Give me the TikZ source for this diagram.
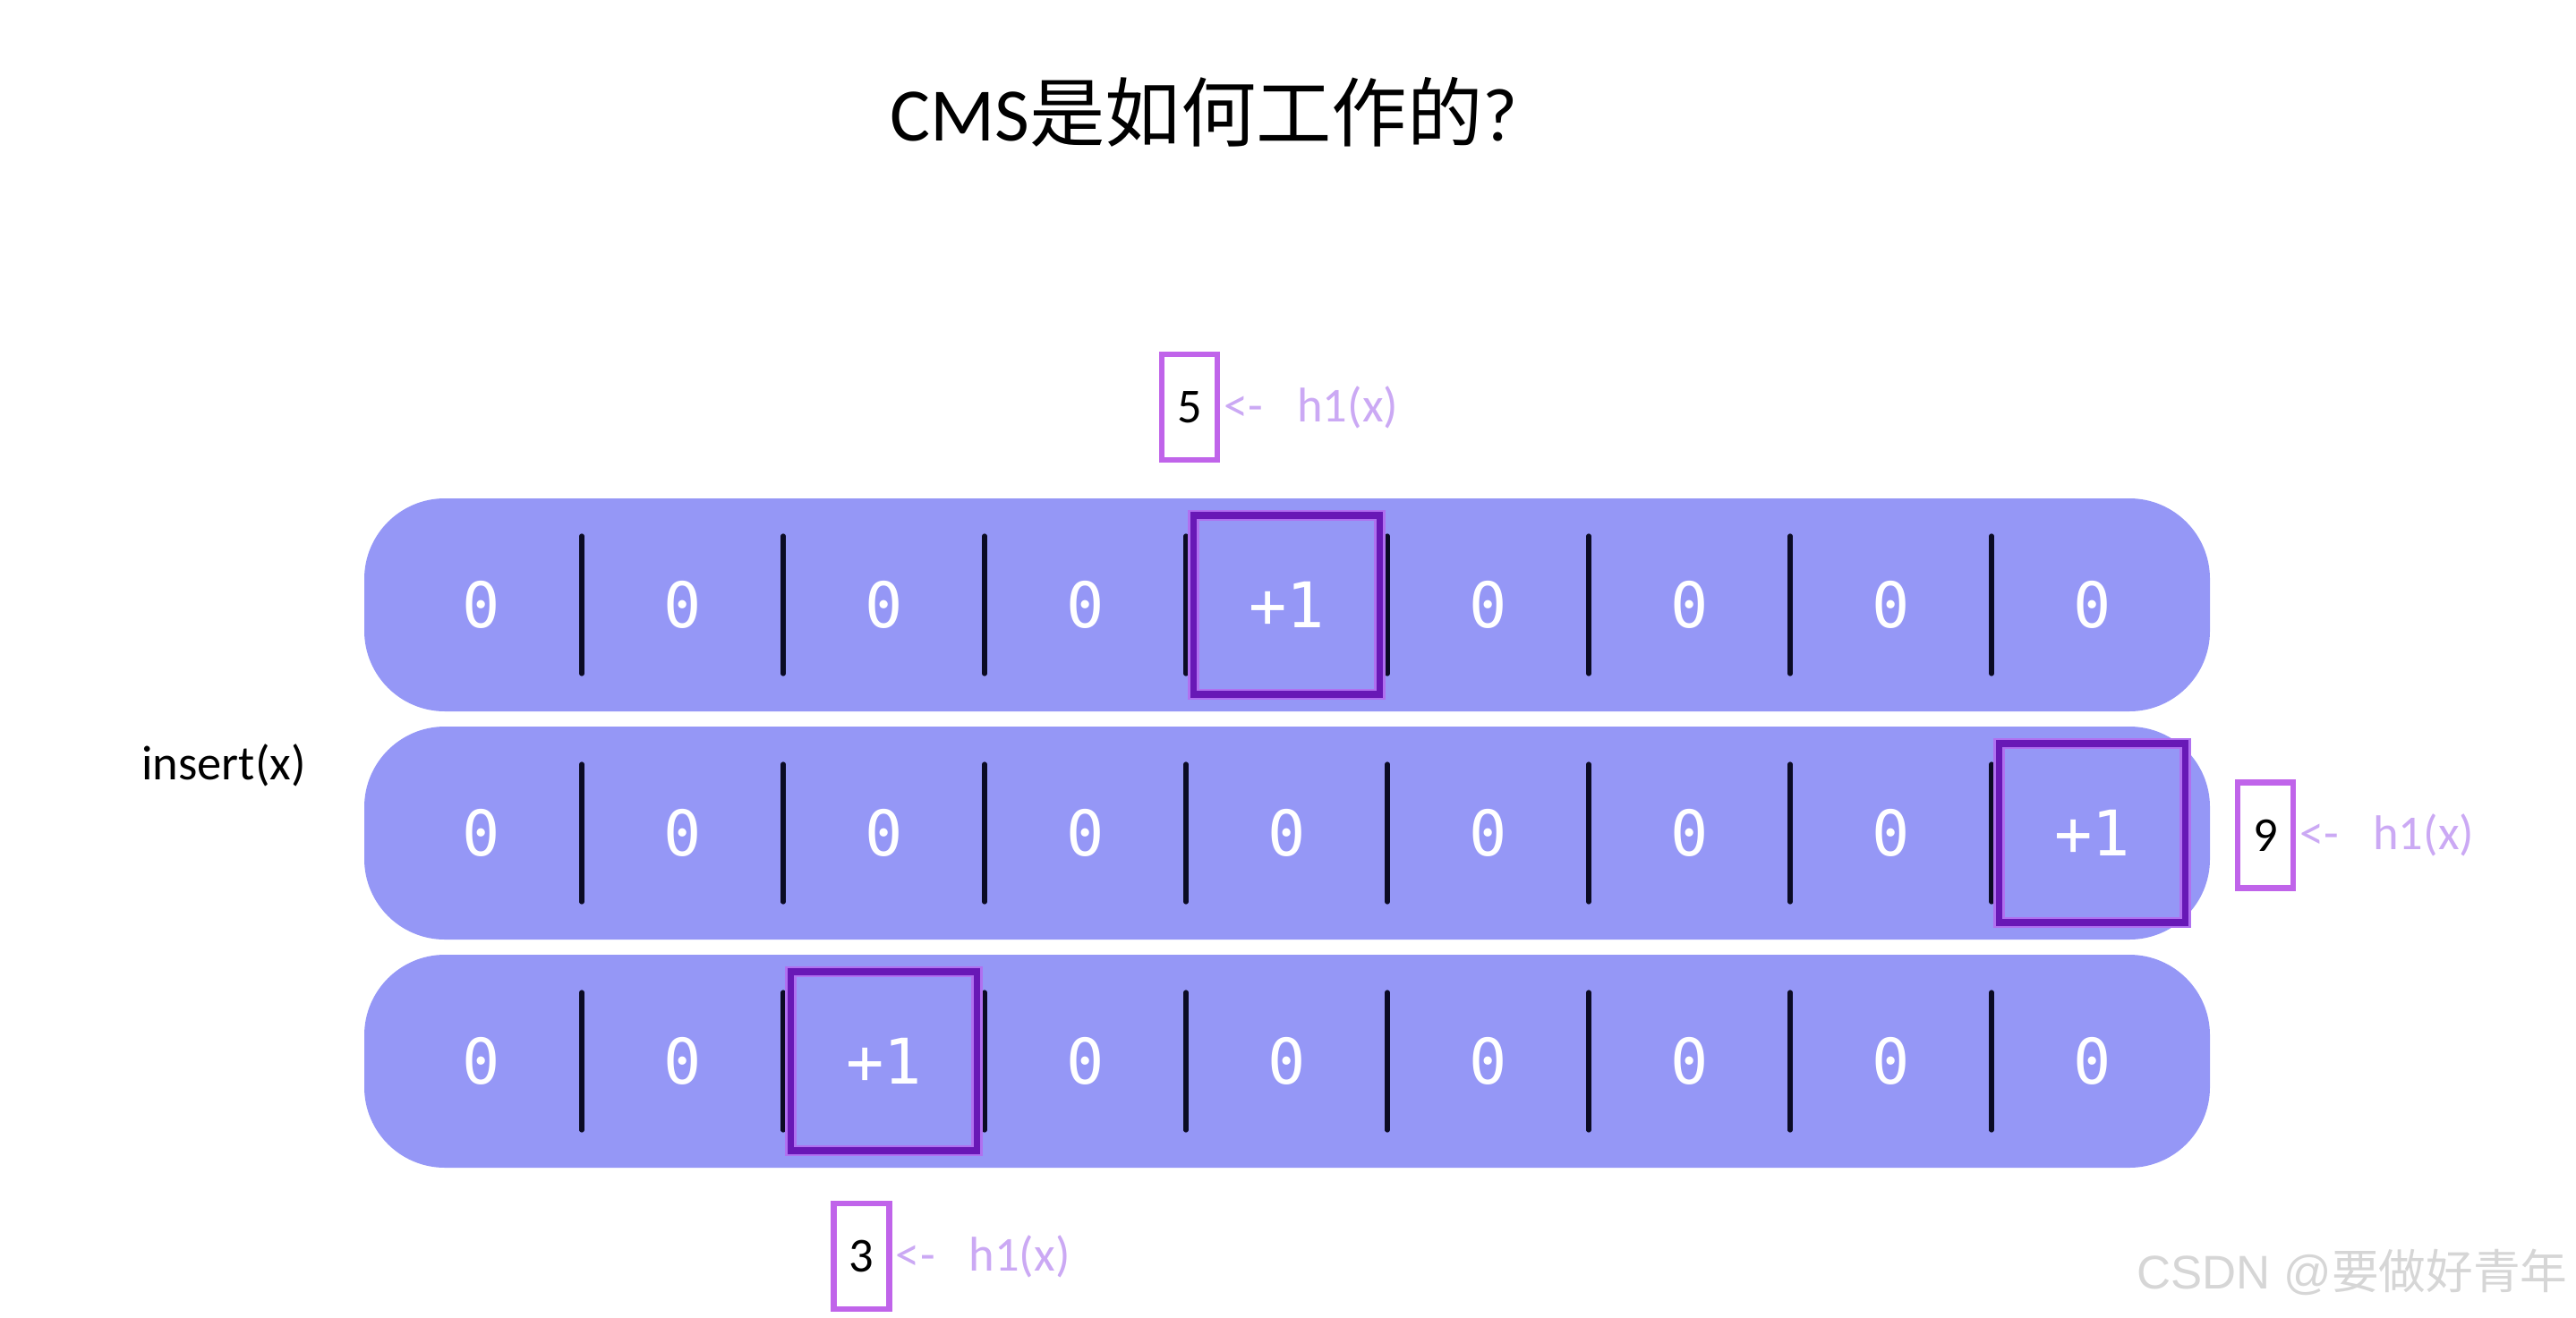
\documentclass[tikz,border=0pt]{standalone}
\usepackage{fontspec}
\usepackage{xcolor}
\usepackage{tikz}
\usetikzlibrary{positioning,calc}
\setmainfont{Carlito}
\newfontfamily\cjk{Noto Sans CJK SC}
\newfontfamily\cellfont{DejaVu Sans Mono}
\newfontfamily\markfont{Liberation Sans}
\definecolor{Band}{HTML}{9597F6}
\definecolor{Bar}{HTML}{0B0B24}
\definecolor{HitPurple}{HTML}{6818B6}
\definecolor{HitGlow}{HTML}{B070F0}
\definecolor{IdxPurple}{HTML}{C064EA}
\definecolor{Hint}{HTML}{CBA9F4}

\begin{document}
\begin{tikzpicture}[
  band/.style={fill=Band,rounded corners=0.9cm,minimum width=20.62cm,minimum height=2.38cm,inner sep=0pt},
  cell/.style={font=\cellfont\fontsize{20}{24}\selectfont,text=white,inner sep=0pt},
  bar/.style={line width=1.5pt,color=Bar,line cap=round},
  hit/.style={draw=HitPurple,line width=2.2pt,preaction={draw=HitGlow,line width=3.6pt},minimum width=2.08cm,minimum height=2.0cm,inner sep=0pt},
  idx/.style={draw=IdxPurple,line width=1.8pt,minimum width=0.62cm,minimum height=1.18cm,inner sep=0pt,font=\fontsize{15.5}{18}\selectfont},
  hint/.style={anchor=west,inner sep=0pt,xshift=1pt,text=Hint,font=\fontsize{15.5}{18}\selectfont}
]
\useasboundingbox (0,0) rectangle (28.78,-14.72);

\node[font=\fontsize{24}{28}\selectfont] (title) at (13.45,-1.25) {CMS{\cjk 是如何工作的}?};
\node[font=\fontsize{15.5}{18}\selectfont] (insert) at (2.50,-8.55) {insert(x)};

% three hash rows, one cell gets +1
\foreach \r/\y/\h in {1/-6.76/5,2/-9.31/9,3/-11.86/3} {
  \node[band] (row\r) at (14.38,\y) {};
  \foreach \c in {1,...,9} {
    \ifnum\c=\h\def\val{+1}\else\def\val{0}\fi
    \node[cell] (c\r-\c) at ({5.375+2.25*(\c-1)},\y) {\val};
  }
  \foreach \c in {1,...,8}
    \draw[bar] ([xshift=1.125cm,yshift=0.77cm]c\r-\c.center) -- ([xshift=1.125cm,yshift=-0.77cm]c\r-\c.center);
  \node[hit] (hit\r) at (c\r-\h) {};
}

\node[idx] (idx1) at (13.29,-4.55) {5};
\node[hint] (hint1) at (idx1.east) {<-\hspace{0.7em}h1(x)};
\node[idx] (idx2) at (25.31,-9.335) {9};
\node[hint] (hint2) at (idx2.east) {<-\hspace{0.7em}h1(x)};
\node[idx] (idx3) at (9.625,-14.04) {3};
\node[hint] (hint3) at (idx3.east) {<-\hspace{0.7em}h1(x)};

\node[font=\markfont\fontsize{15}{18}\selectfont,text=black!16] (mark) at (26.28,-14.22) {CSDN @{\cjk 要做好青年}};
\end{tikzpicture}
\end{document}
